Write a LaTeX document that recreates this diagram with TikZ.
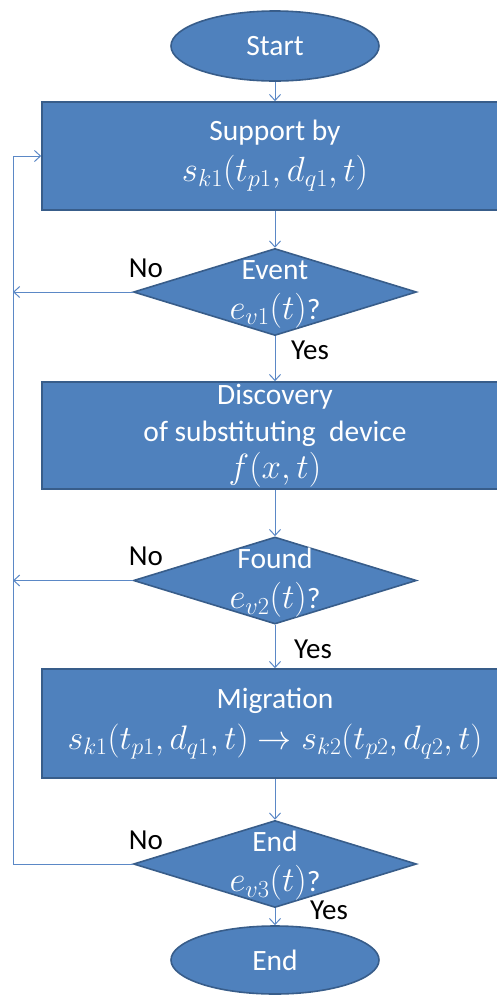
\RequirePackage{fix-cm}
\documentclass[tikz,border=0pt]{standalone}
\usepackage{fontspec}
\setmainfont{Carlito}
\usetikzlibrary{shapes.geometric,arrows.meta}
\definecolor{boxfill}{HTML}{4F81BD}
\definecolor{boxline}{HTML}{385D8A}
\definecolor{conn}{HTML}{5B88C6}
\newcommand\mymath[2][35]{{\fontsize{#1}{37}\selectfont$#2$}}
\begin{document}
\begin{tikzpicture}[x=1pt,y=-1pt,
  base/.style={fill=boxfill,draw=boxline,line width=1.6pt,inner sep=0pt},
  term/.style={base,ellipse,minimum width=208pt,minimum height=70pt,text=white,font=\fontsize{29.5}{33}\selectfont},
  proc/.style={base,rectangle,minimum width=466pt,text=white,align=center,font=\fontsize{29.5}{37}\selectfont},
  proctwo/.style={proc,font=\fontsize{29.5}{41}\selectfont},
  dec/.style={base,diamond,minimum width=283pt,minimum height=87pt},
  dectext/.style={text=white,align=center,font=\fontsize{29.5}{40}\selectfont},
  lab/.style={text=black,font=\fontsize{29}{33}\selectfont},
  conn/.style={draw=conn,line width=1pt,-{Straight Barb[length=6pt,width=11pt]}}]
\useasboundingbox (0,0) rectangle (497,997);
\node[term] (start) at (275,46) {Start};
\node[proctwo,minimum height=108pt] (b1) at (275,156) {Support by\\\mymath{s_{k1}(t_{p1},d_{q1},t)}};
\node[dec] (d1) at (275,292) {};
\node[dectext] (d1t) at (275,294) {Event\\\mymath{e_{v1}(t)}?};
\node[proc,minimum height=107pt] (b2) at (275,435.5) {Discovery\\of substituting~ device\\\mymath{f(x,t)}};
\node[dec] (d2) at (275,580.5) {};
\node[dectext] (d2t) at (275,583) {Found\\\mymath{e_{v2}(t)}?};
\node[proctwo,minimum height=109pt] (b3) at (275,723.5) {Migration\\\mymath[34]{s_{k1}\bigl(t_{p1},d_{q1},t\bigr)\rightarrow s_{k2}(t_{p2},d_{q2},t)}};
\node[dec] (d3) at (275,864) {};
\node[dectext] (d3t) at (275,866) {End\\\mymath{e_{v3}(t)}?};
\node[term,minimum height=68pt] (end) at (275,960) {End};
\coordinate (l1) at (13,292);
\coordinate (l2) at (13,580.5);
\coordinate (l3) at (13,864);
\node[lab] (no1) at (146,268) {No};
\node[lab] (yes1) at (310,350) {Yes};
\node[lab] (no2) at (146,556) {No};
\node[lab] (yes2) at (313,649) {Yes};
\node[lab] (no3) at (146,840) {No};
\node[lab] (yes3) at (329,910) {Yes};
\draw[conn] (start.south) -- (b1.north);
\draw[conn] (b1.south) -- (d1.north);
\draw[conn] (d1.south) -- (b2.north);
\draw[conn] (b2.south) -- (d2.north);
\draw[conn] (d2.south) -- (b3.north);
\draw[conn] (b3.south) -- (d3.north);
\draw[conn] (d3.south) -- (end.north);
\draw[conn] (d1.west) -- (l1);
\draw[conn] (d2.west) -- (l2);
\draw[conn] (d3.west) -- (l3) |- (b1.west);
\end{tikzpicture}
\end{document}
